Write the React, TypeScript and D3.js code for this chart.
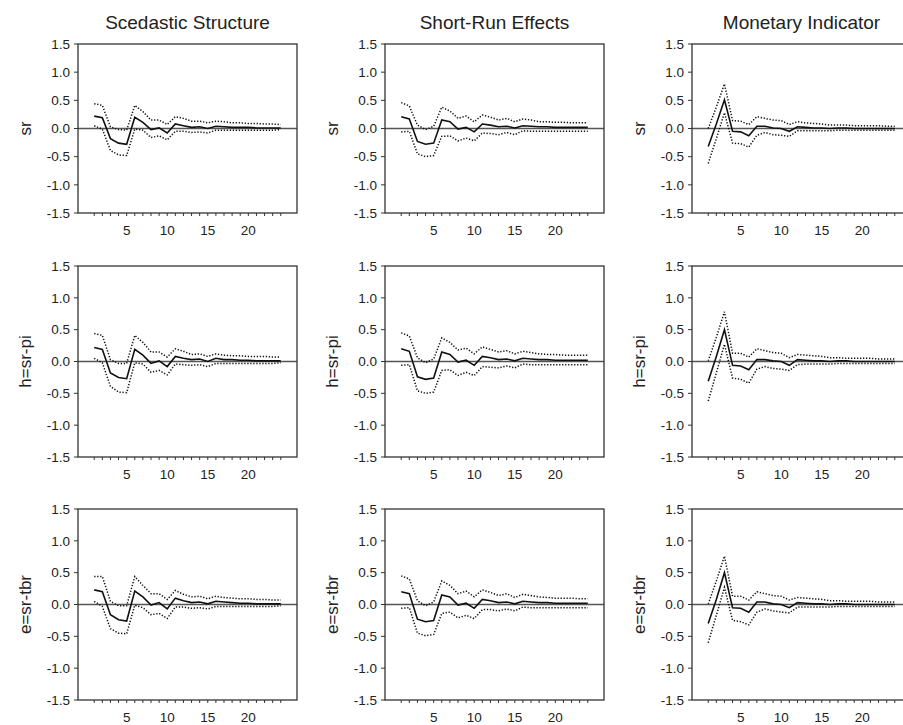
import React from "react";
import * as d3 from "d3";

const colTitles = ["Scedastic Structure", "Short-Run Effects", "Monetary Indicator"];
const rowLabels = ["sr", "h=sr-pi", "e=sr-tbr"];
const horizons = d3.range(1, 25);
const yTicks = [1.5, 1.0, 0.5, 0.0, -0.5, -1.0, -1.5];
const xTickLabels = [5, 10, 15, 20];

// Row 1: sr
const sc_sr_mid = [0.22, 0.19, -0.18, -0.26, -0.28, 0.2, 0.11, -0.02, 0.01, -0.08, 0.08, 0.05, 0.02, 0.03, 0.0, 0.04, 0.03, 0.02, 0.02, 0.02, 0.01, 0.01, 0.01, 0.01];
const sc_sr_up = [0.44, 0.41, 0.03, -0.02, -0.03, 0.41, 0.3, 0.15, 0.15, 0.07, 0.21, 0.18, 0.13, 0.13, 0.1, 0.13, 0.12, 0.1, 0.1, 0.09, 0.09, 0.08, 0.08, 0.07];
const sc_sr_lo = [0.05, -0.01, -0.39, -0.47, -0.48, -0.01, -0.03, -0.16, -0.13, -0.2, -0.05, -0.05, -0.07, -0.06, -0.08, -0.03, -0.03, -0.03, -0.03, -0.03, -0.03, -0.03, -0.03, -0.02];

const sr_sr_mid = [0.21, 0.17, -0.23, -0.28, -0.26, 0.15, 0.12, -0.01, 0.02, -0.06, 0.08, 0.06, 0.03, 0.04, 0.01, 0.05, 0.04, 0.03, 0.03, 0.02, 0.02, 0.02, 0.02, 0.02];
const sr_sr_up = [0.46, 0.4, 0.06, -0.02, 0.04, 0.38, 0.31, 0.18, 0.22, 0.12, 0.24, 0.2, 0.15, 0.18, 0.12, 0.17, 0.15, 0.12, 0.12, 0.11, 0.11, 0.1, 0.1, 0.1];
const sr_sr_lo = [-0.06, -0.05, -0.45, -0.5, -0.48, -0.14, -0.13, -0.22, -0.17, -0.22, -0.08, -0.09, -0.11, -0.07, -0.11, -0.04, -0.05, -0.05, -0.05, -0.05, -0.05, -0.05, -0.05, -0.05];

const mi_sr_mid = [-0.32, 0.08, 0.51, -0.05, -0.06, -0.13, 0.04, 0.04, 0.01, 0.0, -0.05, 0.03, 0.02, 0.01, 0.01, 0.0, 0.01, 0.01, 0.0, 0.0, 0.0, 0.0, 0.0, 0.0];
const mi_sr_up = [0.0, 0.38, 0.79, 0.14, 0.13, 0.07, 0.21, 0.18, 0.15, 0.14, 0.07, 0.12, 0.1, 0.09, 0.08, 0.06, 0.06, 0.06, 0.05, 0.05, 0.05, 0.05, 0.04, 0.04];
const mi_sr_lo = [-0.62, -0.18, 0.28, -0.26, -0.27, -0.33, -0.12, -0.07, -0.11, -0.12, -0.14, -0.04, -0.04, -0.04, -0.04, -0.04, -0.03, -0.03, -0.03, -0.03, -0.03, -0.03, -0.03, -0.03];

// Row 2: h=sr-pi
const sc_h_mid = [0.22, 0.19, -0.18, -0.25, -0.27, 0.19, 0.1, -0.03, 0.01, -0.08, 0.08, 0.05, 0.03, 0.04, 0.0, 0.05, 0.03, 0.03, 0.02, 0.02, 0.01, 0.01, 0.01, 0.01];
const sc_h_up = [0.44, 0.41, 0.03, -0.03, -0.03, 0.41, 0.3, 0.15, 0.15, 0.07, 0.2, 0.16, 0.11, 0.12, 0.08, 0.12, 0.1, 0.09, 0.09, 0.08, 0.08, 0.08, 0.07, 0.07];
const sc_h_lo = [0.05, -0.02, -0.39, -0.48, -0.49, -0.02, -0.04, -0.17, -0.14, -0.21, -0.04, -0.05, -0.06, -0.05, -0.08, -0.03, -0.03, -0.03, -0.03, -0.03, -0.03, -0.03, -0.03, -0.02];

const sr_h_mid = [0.2, 0.16, -0.24, -0.28, -0.26, 0.15, 0.11, -0.01, 0.02, -0.06, 0.08, 0.06, 0.03, 0.04, 0.01, 0.05, 0.04, 0.03, 0.03, 0.02, 0.02, 0.02, 0.02, 0.02];
const sr_h_up = [0.45, 0.4, 0.06, -0.02, 0.04, 0.37, 0.3, 0.18, 0.21, 0.12, 0.23, 0.19, 0.15, 0.17, 0.12, 0.16, 0.14, 0.12, 0.11, 0.11, 0.1, 0.1, 0.1, 0.1];
const sr_h_lo = [-0.06, -0.05, -0.46, -0.5, -0.48, -0.14, -0.13, -0.22, -0.17, -0.22, -0.08, -0.09, -0.1, -0.07, -0.1, -0.04, -0.05, -0.05, -0.05, -0.05, -0.05, -0.05, -0.05, -0.05];

const mi_h_mid = [-0.31, 0.08, 0.5, -0.06, -0.07, -0.13, 0.03, 0.03, 0.01, 0.0, -0.06, 0.03, 0.02, 0.01, 0.01, 0.0, 0.01, 0.01, 0.0, 0.0, 0.0, 0.0, 0.0, 0.0];
const mi_h_up = [0.01, 0.38, 0.78, 0.13, 0.13, 0.07, 0.2, 0.17, 0.14, 0.13, 0.06, 0.11, 0.1, 0.09, 0.08, 0.06, 0.06, 0.05, 0.05, 0.05, 0.05, 0.04, 0.04, 0.04];
const mi_h_lo = [-0.62, -0.18, 0.27, -0.26, -0.28, -0.34, -0.12, -0.08, -0.11, -0.12, -0.14, -0.05, -0.04, -0.04, -0.04, -0.04, -0.03, -0.03, -0.03, -0.03, -0.03, -0.03, -0.03, -0.03];

// Row 3: e=sr-tbr
const sc_e_mid = [0.23, 0.2, -0.16, -0.24, -0.26, 0.21, 0.12, -0.01, 0.03, -0.07, 0.1, 0.06, 0.03, 0.04, 0.01, 0.05, 0.04, 0.03, 0.02, 0.02, 0.01, 0.01, 0.01, 0.01];
const sc_e_up = [0.44, 0.44, 0.05, -0.02, -0.02, 0.44, 0.3, 0.17, 0.17, 0.08, 0.22, 0.16, 0.12, 0.13, 0.09, 0.13, 0.11, 0.1, 0.09, 0.09, 0.08, 0.08, 0.07, 0.07];
const sc_e_lo = [0.05, -0.03, -0.38, -0.45, -0.46, -0.01, -0.05, -0.16, -0.14, -0.22, -0.04, -0.04, -0.06, -0.05, -0.07, -0.03, -0.03, -0.03, -0.03, -0.03, -0.03, -0.03, -0.03, -0.02];

const sr_e_mid = [0.2, 0.17, -0.23, -0.27, -0.25, 0.15, 0.12, -0.01, 0.02, -0.06, 0.08, 0.06, 0.03, 0.04, 0.01, 0.05, 0.04, 0.03, 0.03, 0.02, 0.02, 0.02, 0.02, 0.02];
const sr_e_up = [0.45, 0.4, 0.06, -0.02, 0.04, 0.37, 0.3, 0.17, 0.21, 0.12, 0.23, 0.19, 0.14, 0.17, 0.11, 0.16, 0.14, 0.12, 0.11, 0.1, 0.1, 0.1, 0.09, 0.09];
const sr_e_lo = [-0.06, -0.05, -0.45, -0.49, -0.47, -0.14, -0.12, -0.21, -0.17, -0.22, -0.08, -0.08, -0.1, -0.07, -0.1, -0.04, -0.05, -0.05, -0.05, -0.05, -0.05, -0.05, -0.05, -0.05];

const mi_e_mid = [-0.3, 0.08, 0.5, -0.05, -0.06, -0.12, 0.04, 0.04, 0.01, 0.0, -0.05, 0.03, 0.02, 0.01, 0.01, 0.0, 0.01, 0.01, 0.0, 0.0, 0.0, 0.0, 0.0, 0.0];
const mi_e_up = [0.01, 0.37, 0.76, 0.13, 0.13, 0.07, 0.2, 0.17, 0.14, 0.13, 0.07, 0.11, 0.1, 0.09, 0.08, 0.06, 0.06, 0.05, 0.05, 0.05, 0.05, 0.04, 0.04, 0.04];
const mi_e_lo = [-0.6, -0.17, 0.27, -0.25, -0.27, -0.32, -0.12, -0.07, -0.1, -0.12, -0.13, -0.04, -0.04, -0.04, -0.04, -0.04, -0.03, -0.03, -0.03, -0.03, -0.03, -0.03, -0.03, -0.03];

const panels = [
  [[sc_sr_mid, sc_sr_up, sc_sr_lo], [sr_sr_mid, sr_sr_up, sr_sr_lo], [mi_sr_mid, mi_sr_up, mi_sr_lo]],
  [[sc_h_mid, sc_h_up, sc_h_lo], [sr_h_mid, sr_h_up, sr_h_lo], [mi_h_mid, mi_h_up, mi_h_lo]],
  [[sc_e_mid, sc_e_up, sc_e_lo], [sr_e_mid, sr_e_up, sr_e_lo], [mi_e_mid, mi_e_up, mi_e_lo]],
];

const W = 903;
const H = 725;
const colLeft = [78, 385, 692];
const panelW = 219;
const rowTop = [44, 266, 509];
const rowH = [169, 191, 191];
const FONT = "'Liberation Sans', Arial, Helvetica, sans-serif";

function Panel({ r, c }: { r: number; c: number }) {
  const left = colLeft[c];
  const top = rowTop[r];
  const h = rowH[r];
  const x = d3.scaleLinear().domain([-1, 26]).range([left, left + panelW]);
  const y = d3.scaleLinear().domain([-1.5, 1.5]).range([top + h, top]);
  const line = d3
    .line<number>()
    .x((_, i) => x(horizons[i]))
    .y((v) => y(v));
  const [mid, up, lo] = panels[r][c];
  const bottom = top + h;
  return (
    <g>
      <line x1={left} x2={left + panelW} y1={y(0)} y2={y(0)} stroke="#555" strokeWidth={1.6} />
      <path d={line(up) || ""} fill="none" stroke="#111" strokeWidth={1.5} strokeDasharray="1.3,1.7" />
      <path d={line(lo) || ""} fill="none" stroke="#111" strokeWidth={1.5} strokeDasharray="1.3,1.7" />
      <path d={line(mid) || ""} fill="none" stroke="#111" strokeWidth={1.6} />
      <rect x={left} y={top} width={panelW} height={h} fill="none" stroke="#333" strokeWidth={1.3} />
      {yTicks.map((t) => (
        <g key={"y" + t}>
          <line x1={left - 4} x2={left} y1={y(t)} y2={y(t)} stroke="#333" strokeWidth={1} />
          <text x={left - 8} y={y(t)} dy="0.35em" textAnchor="end" fontSize={13.5} fontFamily={FONT} fill="#222">
            {t.toFixed(1)}
          </text>
        </g>
      ))}
      {horizons.map((t) => (
        <line key={"x" + t} x1={x(t)} x2={x(t)} y1={bottom} y2={bottom + 3} stroke="#333" strokeWidth={1} />
      ))}
      {xTickLabels.map((t) => (
        <text key={"xl" + t} x={x(t)} y={bottom + 22} textAnchor="middle" fontSize={13.5} fontFamily={FONT} fill="#222">
          {t}
        </text>
      ))}
      <text
        transform={`translate(${left - 47},${top + h / 2}) rotate(-90)`}
        textAnchor="middle"
        fontSize={17}
        fontFamily={FONT}
        fill="#222"
      >
        {rowLabels[r]}
      </text>
      {r === 0 && (
        <text x={left + panelW / 2} y={29} textAnchor="middle" fontSize={19} fontFamily={FONT} fill="#222">
          {colTitles[c]}
        </text>
      )}
    </g>
  );
}

export default function App() {
  return (
    <svg width={W} height={H} style={{ position: "absolute", left: 0, top: 0, background: "#fff" }}>
      <rect x={0} y={0} width={W} height={H} fill="#fff" />
      {[0, 1, 2].map((r) => [0, 1, 2].map((c) => <Panel key={`${r}-${c}`} r={r} c={c} />))}
    </svg>
  );
}
